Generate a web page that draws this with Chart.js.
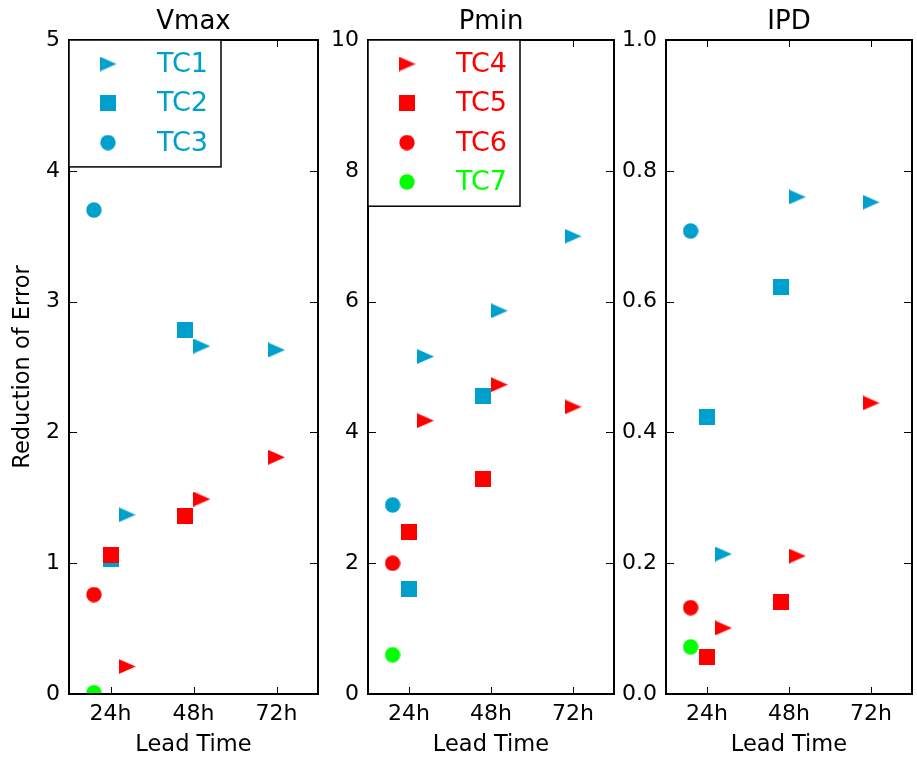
<!DOCTYPE html>
<html>
<head>
<meta charset="utf-8">
<script src="https://cdn.jsdelivr.net/npm/chart.js@4.4.1/dist/chart.umd.min.js"></script>
<style>
  body { margin: 0; background: #fff; }
  #wrap { position: relative; width: 917px; height: 759px; }
  #wrap canvas { position: absolute; top: 0; }
</style>
</head>
<body>
<div id="wrap">
  <canvas id="vmaxChart" width="330" height="759" style="left:0px"></canvas>
  <canvas id="pminChart" width="289" height="759" style="left:330px"></canvas>
  <canvas id="ipdChart" width="298" height="759" style="left:619px"></canvas>
</div>
<script>
// Data: one row per TC, one value per lead time (null = no marker)
const leadTimes = ['24h', '48h', '72h'];
const seriesNames = ['TC1', 'TC2', 'TC3', 'TC4', 'TC5', 'TC6', 'TC7'];
const vmaxValues = [
  [1.37, 2.66, 2.63],
  [1.03, 2.78, null],
  [3.70, null, null],
  [0.21, 1.49, 1.81],
  [1.06, 1.36, null],
  [0.76, null, null],
  [0.01, null, null],
];
const pminValues = [
  [5.16, 5.86, 7.00],
  [1.60, 4.56, null],
  [2.89, null, null],
  [4.18, 4.73, 4.39],
  [2.47, 3.28, null],
  [2.00, null, null],
  [0.60, null, null],
];
const ipdValues = [
  [0.214, 0.760, 0.752],
  [0.424, 0.623, null],
  [0.708, null, null],
  [0.101, 0.211, 0.445],
  [0.056, 0.140, null],
  [0.132, null, null],
  [0.072, null, null],
];
const vmaxTicks = [0, 1, 2, 3, 4, 5];
const pminTicks = [0, 2, 4, 6, 8, 10];
const ipdTicks = [0, 0.2, 0.4, 0.6, 0.8, 1.0];

const BLUE = '#00a0cc';
const RED = '#ff0000';
const GREEN = '#00ff00';
const seriesColors = [BLUE, BLUE, BLUE, RED, RED, RED, GREEN];
const seriesShapes = ['triangle', 'square', 'circle', 'triangle', 'square', 'circle', 'circle'];
const shapeOrder = ['circle', 'square', 'triangle'];
const FONT = 'DejaVu Sans';

Chart.defaults.font.family = FONT;
Chart.defaults.color = '#000';

// matplotlib-like marker images
function makeMarker(shape, color) {
  const w = shape === 'triangle' ? 17 : 16;
  const h = shape === 'triangle' ? 15 : 16;
  const c = document.createElement('canvas');
  c.width = w;
  c.height = h;
  const g = c.getContext('2d');
  g.fillStyle = color;
  g.beginPath();
  if (shape === 'circle') {
    g.arc(w / 2, h / 2, w / 2 - 0.3, 0, Math.PI * 2);
  } else if (shape === 'square') {
    g.rect(0, 0, w, h);
  } else {
    g.moveTo(w, h / 2);
    g.lineTo(0, 0);
    g.lineTo(0, h);
    g.closePath();
  }
  g.fill();
  return c;
}
const markers = seriesShapes.map(function (sh, i) { return makeMarker(sh, seriesColors[i]); });

// markers present at a lead time are spread 0.2 apart around the tick
function xOffset(values, series, t) {
  const present = shapeOrder.filter(function (sh) {
    return values.some(function (row, j) { return seriesShapes[j] === sh && row[t] !== null; });
  });
  const rank = present.indexOf(seriesShapes[series]);
  return (rank - (present.length - 1) / 2) * 0.2;
}

function buildDatasets(values) {
  return values.map(function (row, i) {
    const pts = [];
    row.forEach(function (v, t) {
      if (v !== null) pts.push({ x: t + 1 + xOffset(values, i, t), y: v });
    });
    return {
      label: seriesNames[i],
      data: pts,
      pointStyle: markers[i],
      backgroundColor: seriesColors[i],
      borderColor: seriesColors[i],
      showLine: false,
      clip: 0,
      order: -i, // later series drawn on top
    };
  });
}

// frame, inward ticks on all four sides, and the legend box
const framePlugin = {
  id: 'frame',
  afterDatasetsDraw: function (chart, args, opts) {
    const ctx = chart.ctx;
    const a = chart.chartArea;
    const xs = chart.scales.x;
    const ys = chart.scales.y;
    ctx.save();
    ctx.strokeStyle = '#000';
    ctx.lineWidth = 1;
    ctx.beginPath();
    xs.ticks.forEach(function (t) {
      const px = Math.round(xs.getPixelForValue(t.value)) + 0.5;
      ctx.moveTo(px, a.bottom); ctx.lineTo(px, a.bottom - 7);
      ctx.moveTo(px, a.top); ctx.lineTo(px, a.top + 7);
    });
    ys.ticks.forEach(function (t) {
      const py = Math.round(ys.getPixelForValue(t.value)) + 0.5;
      ctx.moveTo(a.left, py); ctx.lineTo(a.left + 8, py);
      ctx.moveTo(a.right, py); ctx.lineTo(a.right - 8, py);
    });
    ctx.stroke();
    ctx.lineWidth = 2;
    ctx.strokeRect(a.left, a.top, a.right - a.left, a.bottom - a.top);

    if (opts.legend) {
      const items = opts.legend;
      const rowH = 39.3;
      const h = 9 + items.length * rowH;
      ctx.fillStyle = '#fff';
      ctx.fillRect(a.left, a.top, 152, h);
      ctx.lineWidth = 1.5;
      ctx.strokeStyle = '#000';
      ctx.strokeRect(a.left, a.top, 152, h);
      ctx.font = '27px "' + FONT + '"';
      ctx.textBaseline = 'middle';
      ctx.textAlign = 'left';
      items.forEach(function (i, k) {
        const cy = a.top + 24 + k * rowH;
        const m = markers[i];
        ctx.drawImage(m, a.left + 39 - m.width / 2, cy - m.height / 2);
        ctx.fillStyle = seriesColors[i];
        ctx.fillText(seriesNames[i], a.left + 88, cy + 1);
      });
    }
    ctx.restore();
  },
};

function makeChart(id, title, values, yTicks, opt) {
  const ctx = document.getElementById(id).getContext('2d');
  return new Chart(ctx, {
    type: 'scatter',
    data: { datasets: buildDatasets(values) },
    plugins: [framePlugin],
    options: {
      responsive: false,
      animation: false,
      events: [],
      layout: { padding: { left: 0, right: opt.padRight, top: 0, bottom: 0 } },
      plugins: {
        legend: { display: false },
        tooltip: { enabled: false },
        title: {
          display: true,
          text: title,
          fullSize: false,
          font: { size: 26, weight: 'normal', family: FONT },
          color: '#000',
          padding: { top: 6.5, bottom: 2.3 },
        },
        frame: { legend: opt.legend },
      },
      scales: {
        x: {
          type: 'linear',
          min: 0.5,
          max: 3.5,
          grid: { display: false, drawTicks: false },
          border: { display: false },
          afterBuildTicks: function (scale) {
            scale.ticks = leadTimes.map(function (l, i) { return { value: i + 1 }; });
          },
          afterFit: function (scale) { scale.height = 65; },
          ticks: {
            maxRotation: 0,
            padding: 7,
            font: { size: 22 },
            color: '#000',
            callback: function (v) { return leadTimes[Math.round(v) - 1]; },
          },
          title: {
            display: true,
            text: 'Lead Time',
            font: { size: 22.5 },
            color: '#000',
            padding: { top: 0, bottom: 0 },
          },
        },
        y: {
          min: yTicks[0],
          max: yTicks[yTicks.length - 1],
          grid: { display: false, drawTicks: false },
          border: { display: false },
          afterBuildTicks: function (scale) {
            scale.ticks = yTicks.map(function (v) { return { value: v }; });
          },
          afterFit: function (scale) { scale.width = opt.axisWidth; },
          ticks: {
            padding: 9,
            font: { size: 22 },
            color: '#000',
            callback: function (v) { return opt.decimals ? v.toFixed(opt.decimals) : String(v); },
          },
          title: {
            display: !!opt.yTitle,
            text: opt.yTitle || '',
            font: { size: 22.5 },
            color: '#000',
            padding: { top: 10, bottom: 0 },
          },
        },
      },
    },
  });
}

makeChart('vmaxChart', 'Vmax', vmaxValues, vmaxTicks,
  { axisWidth: 69, padRight: 12, yTitle: 'Reduction of Error', legend: [0, 1, 2] });
makeChart('pminChart', 'Pmin', pminValues, pminTicks,
  { axisWidth: 38, padRight: 2, legend: [3, 4, 5, 6] });
makeChart('ipdChart', 'IPD', ipdValues, ipdTicks,
  { axisWidth: 47, padRight: 2, decimals: 1 });
</script>
</body>
</html>
